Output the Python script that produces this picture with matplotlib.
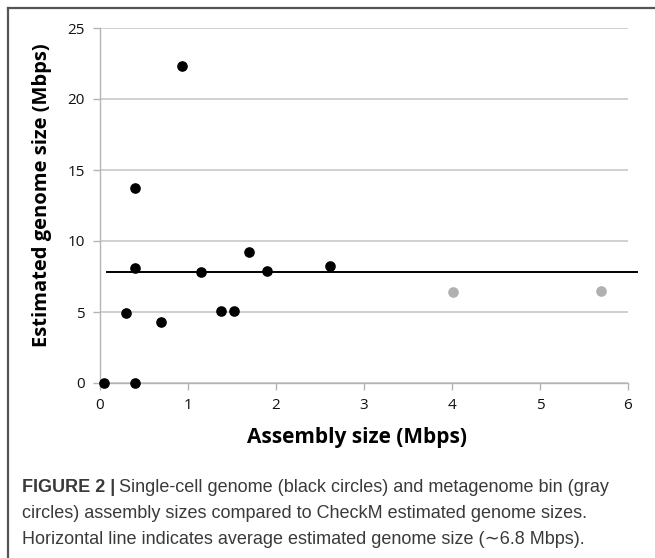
import matplotlib
matplotlib.use("Agg")
import matplotlib.pyplot as plt
from matplotlib.lines import Line2D

# Data
sc_assembly = [0.05, 0.40, 0.29, 0.40, 0.40, 0.69, 0.93, 1.15, 1.38, 1.52, 1.69, 1.90, 2.61]
sc_estimated = [0.0, 0.0, 4.9, 13.7, 8.1, 4.3, 22.3, 7.8, 5.1, 5.05, 9.2, 7.9, 8.25]
bin_assembly = [4.01, 5.69]
bin_estimated = [6.4, 6.45]
avg_line_x = [0.085, 6.10]
avg_line_y = [7.82, 7.82]
x_ticks = [0, 1, 2, 3, 4, 5, 6]
y_ticks = [0, 5, 10, 15, 20, 25]

W, H = 655, 558
fig = plt.figure(figsize=(W / 100, H / 100), dpi=100)
fig.patch.set_facecolor("white")

ax = fig.add_axes([100 / W, (H - 383) / H, 528 / W, 355 / H])
ax.set_xlim(0, 6)
ax.set_ylim(0, 25)
ax.set_xticks(x_ticks)
ax.set_yticks(y_ticks)
ax.yaxis.grid(True, color="#c8c8c8", linewidth=1.2)
ax.set_axisbelow(True)
for s in ["top", "right"]:
    ax.spines[s].set_visible(False)
for s in ["left", "bottom"]:
    ax.spines[s].set_color("#b4b4b4")
    ax.spines[s].set_linewidth(1.0)
ax.tick_params(axis="both", colors="#b4b4b4", length=5, width=1.0, labelsize=11,
               labelcolor="#111111")
ax.tick_params(axis="x", pad=6)
ax.tick_params(axis="y", pad=6)
for lab in ax.get_xticklabels() + ax.get_yticklabels():
    lab.set_fontfamily("Open Sans")

ax.scatter(sc_assembly, sc_estimated, s=44, color="black", zorder=3, clip_on=False)
ax.scatter(bin_assembly, bin_estimated, s=44, color="#b0b0b0", zorder=3, clip_on=False)
ax.add_line(Line2D(avg_line_x, avg_line_y, color="black", linewidth=1.4, clip_on=False))

fig.text(357 / W, 1 - 438 / H, "Assembly size (Mbps)", ha="center", va="center",
         fontsize=15, fontweight="bold", family="Open Sans")
fig.text(42 / W, 1 - 195 / H, "Estimated genome size (Mbps)", ha="center", va="center",
         rotation=90, fontsize=14.5, fontweight="bold", family="Open Sans")

# Border (left and top)
fig.add_artist(Line2D([8 / W, 8 / W], [1 - 8 / H, 0.0], transform=fig.transFigure,
                      color="#555555", linewidth=1.6))
fig.add_artist(Line2D([8 / W, 1.0], [1 - 8 / H, 1 - 8 / H], transform=fig.transFigure,
                      color="#555555", linewidth=1.6))

cap_color = "#3a3a3a"
cap_fs = 13.0
cap_family = ["Liberation Sans", "DejaVu Sans"]
y1 = 1 - 487 / H
t = fig.text(22 / W, y1, "FIGURE 2 |", ha="left", va="center", fontsize=cap_fs,
             fontweight="bold", family=cap_family, color=cap_color)
fig.canvas.draw()
bb = t.get_window_extent()
fig.text(bb.x1 / W + 4 / W, y1, "Single-cell genome (black circles) and metagenome bin (gray",
         ha="left", va="center", fontsize=cap_fs, family=cap_family, color=cap_color)
fig.text(22 / W, 1 - 514 / H,
         "circles) assembly sizes compared to CheckM estimated genome sizes.",
         ha="left", va="center", fontsize=cap_fs, family=cap_family, color=cap_color)
fig.text(22 / W, 1 - 540 / H,
         "Horizontal line indicates average estimated genome size (\u223c6.8 Mbps).",
         ha="left", va="center", fontsize=cap_fs, family=cap_family, color=cap_color)

fig.savefig("out.png", dpi=100, facecolor="white")
